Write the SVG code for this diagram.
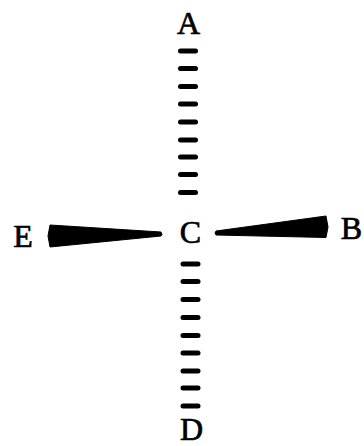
<svg xmlns="http://www.w3.org/2000/svg" width="364" height="446" viewBox="0 0 364 446">
<style>
text{font-family:"Liberation Serif","DejaVu Serif",serif;font-size:32px;fill:#000;stroke:#000;stroke-width:0.7;text-anchor:middle}
.d{fill:#000}
.w{fill:#000;stroke:#000;stroke-width:1;stroke-linejoin:round}
</style>
<defs>
<rect id="dash" x="-10" y="-2.5" width="20" height="5" rx="2.5"/>
</defs>
<rect width="364" height="446" fill="#fff"/>
<g id="connectors">
<g id="A-C">
<use href="#dash" class="d" x="188" y="51"/>
<use href="#dash" class="d" x="188" y="68.5"/>
<use href="#dash" class="d" x="188" y="86.5"/>
<use href="#dash" class="d" x="188" y="104"/>
<use href="#dash" class="d" x="188" y="122"/>
<use href="#dash" class="d" x="188" y="140"/>
<use href="#dash" class="d" x="188" y="157"/>
<use href="#dash" class="d" x="188" y="174.5"/>
<use href="#dash" class="d" x="188" y="192.5"/>
</g>
<g id="C-D">
<use href="#dash" class="d" x="190.5" y="264"/>
<use href="#dash" class="d" x="190.5" y="281.5"/>
<use href="#dash" class="d" x="190.5" y="299.5"/>
<use href="#dash" class="d" x="190.5" y="317.5"/>
<use href="#dash" class="d" x="190.5" y="335.5"/>
<use href="#dash" class="d" x="190.5" y="353"/>
<use href="#dash" class="d" x="190.5" y="371"/>
<use href="#dash" class="d" x="190.5" y="388"/>
<use href="#dash" class="d" x="190.5" y="406"/>
</g>
<polygon id="E-C" class="w" points="50,225 161,232 162,234.5 161,236 50,247 48,236"/>
<polygon id="C-B" class="w" points="216,231 326,216 328,227 326,237.5 216,235 215,233"/>
</g>
<g id="node-A"><text x="188.5" y="34">A</text></g>
<g id="node-C"><text x="190.5" y="243">C</text></g>
<g id="node-E"><text x="23" y="247">E</text></g>
<g id="node-B"><text x="351.5" y="238.5">B</text></g>
<g id="node-D"><text x="191.5" y="440">D</text></g>
</svg>
